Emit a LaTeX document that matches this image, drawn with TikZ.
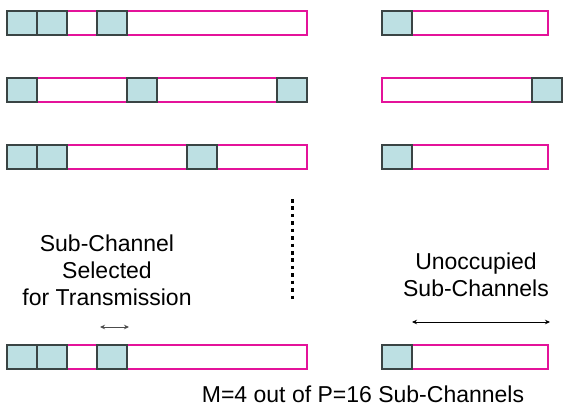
\documentclass[tikz,border=0pt]{standalone}
\usepackage{fontspec}
\setmainfont{Liberation Sans}
\usetikzlibrary{arrows.meta}
\definecolor{cellfill}{HTML}{BDE0E3}
\definecolor{cellline}{HTML}{3A4444}
\definecolor{barline}{HTML}{E4139A}
\begin{document}
\begin{tikzpicture}[x=1pt,y=-1pt,
  bar/.style={draw=barline,line width=1.2pt},
  cell/.style={draw=cellline,fill=cellfill,line width=1.2pt},
  lbl/.style={font=\fontsize{23}{27}\selectfont,align=center,inner sep=0pt},
  span/.style={line width=0.9pt,{Stealth[length=5pt,width=4.5pt]}-{Stealth[length=5pt,width=4.5pt]}}]
\useasboundingbox (0,0) rectangle (563,408);
% row 1
\draw[bar] (7,11) rectangle (307,35);
\foreach \x in {7,37,97} \draw[cell] (\x,11) rectangle ++(30,24);
\draw[bar] (382,11) rectangle (548,35);
\draw[cell] (382,11) rectangle ++(30,24);
% row 2
\draw[bar] (7,78) rectangle (307,102);
\foreach \x in {7,127,277} \draw[cell] (\x,78) rectangle ++(30,24);
\draw[bar] (382,78) rectangle (532,102);
\draw[cell] (532,78) rectangle ++(30,24);
% row 3
\draw[bar] (7,145) rectangle (307,169);
\foreach \x in {7,37,187} \draw[cell] (\x,145) rectangle ++(30,24);
\draw[bar] (382,145) rectangle (548,169);
\draw[cell] (382,145) rectangle ++(30,24);
% last row
\draw[bar] (7,345) rectangle (307,369);
\foreach \x in {7,37,97} \draw[cell] (\x,345) rectangle ++(30,24);
\draw[bar] (382,345) rectangle (548,369);
\draw[cell] (382,345) rectangle ++(30,24);
% dotted line
\coordinate (dtop) at (292.3,199);
\coordinate (dbot) at (292.3,299.5);
\draw[line width=3.5pt,dash pattern=on 3.5pt off 3.93pt] (dtop) -- (dbot);
% labels
\node[lbl] (sel) at (107,270) {Sub-Channel\\Selected\\for Transmission};
\node[lbl] (unocc) at (476,275) {Unoccupied\\Sub-Channels};
\node[lbl,anchor=base] (mp) at (363,402) {M=4 out of P=16 Sub-Channels};
% span arrows
\coordinate (la) at (100,327);
\coordinate (lb) at (129,327);
\draw[span,draw=black!70,fill=black!70] (la) -- (lb);
\coordinate (ra) at (412,322);
\coordinate (rb) at (550,322);
\draw[span,line width=0.7pt] (ra) -- (rb);
\end{tikzpicture}
\end{document}
